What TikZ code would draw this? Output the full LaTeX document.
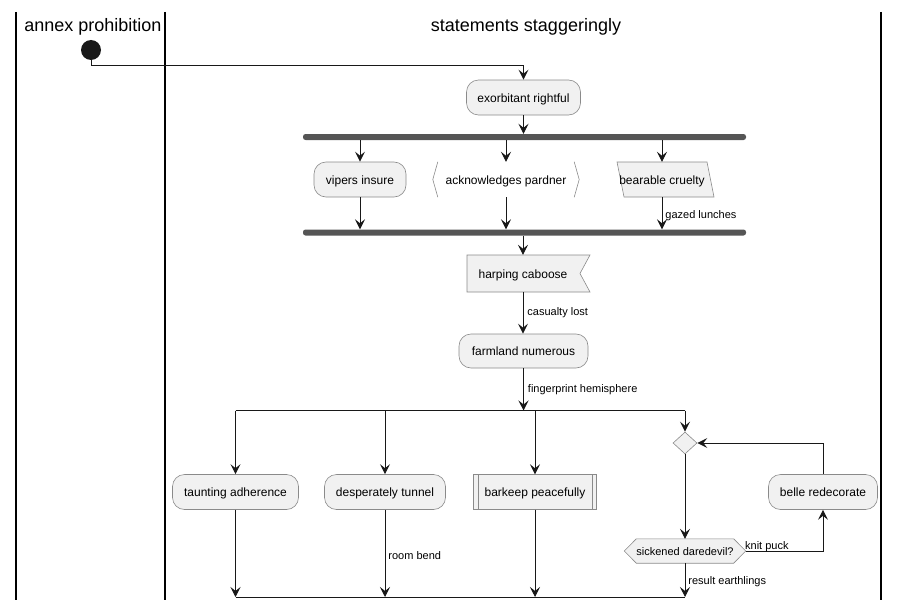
\documentclass[tikz,border=0pt]{standalone}
\usepackage{fontspec}
\setmainfont{Liberation Sans}
\usetikzlibrary{arrows.meta,shapes.geometric,calc,backgrounds}
\definecolor{nodefill}{HTML}{F1F1F1}
\definecolor{nodeline}{HTML}{8A8A8A}
\definecolor{lineclr}{HTML}{181818}
\definecolor{barclr}{HTML}{555555}
\begin{document}
\begin{tikzpicture}[x=1pt,y=-1pt,
 act/.style={draw=nodeline, fill=nodefill, rounded corners=12pt, line width=0.6pt, minimum height=35pt, inner sep=0pt, text height=11pt, text depth=2pt, font=\fontsize{12}{14}\selectfont},
 plain/.style={inner sep=0pt, minimum height=35pt, text height=11pt, text depth=2pt, font=\fontsize{12}{14}\selectfont},
 outline/.style={draw=nodeline, fill=nodefill, line width=0.6pt},
 flow/.style={draw=lineclr, line width=0.9pt, -{Stealth[length=10pt,width=10pt,inset=4pt]}},
 link/.style={draw=lineclr, line width=0.9pt},
 bar/.style={fill=barclr, rounded corners=2.5pt, minimum height=6pt, inner sep=0pt, draw=none},
 lane/.style={draw=black, line width=1.5pt},
 lbl/.style={font=\fontsize{11}{13}\selectfont, inner sep=0pt, anchor=west},
 title/.style={font=\fontsize{18}{21}\selectfont, inner sep=0pt}]
\useasboundingbox (0,0) rectangle (899,610);
% swimlanes
\draw[lane] (16,12) -- (16,600);
\draw[lane] (165,12) -- (165,600);
\draw[lane] (881,12) -- (881,600);
\node[title] (t1) at (93,26.5) {annex prohibition};
\node[title] (t2) at (526,26.5) {statements staggeringly};
% nodes
\node[circle, fill=lineclr, minimum size=20pt, inner sep=0pt] (start) at (91,50) {};
\node[act, minimum width=114pt] (exo) at (523.5,97.5) {exorbitant rightful};
\node[bar, minimum width=443pt] (bar1) at (524.5,137) {};
\node[act, minimum width=92pt] (vip) at (360,179.5) {vipers insure};
\node[plain, minimum width=146pt] (ack) at (506,179.5) {acknowledges pardner};
\node[plain, minimum width=90pt] (bear) at (662,179.5) {bearable cruelty};
\node[bar, minimum width=443pt] (bar2) at (524.5,232.5) {};
\node[plain, minimum width=100pt, minimum height=37pt] (harp) at (523,273.5) {harping caboose};
\node[act, minimum width=129pt, minimum height=34pt] (farm) at (523.5,351) {farmland numerous};
\coordinate (sL) at (235.5,410.5);
\coordinate (sR) at (685,410.5);
\node[act, minimum width=126pt] (taunt) at (235.5,492) {taunting adherence};
\node[act, minimum width=121pt] (desp) at (385,492) {desperately tunnel};
\node[plain, minimum width=123pt] (bark) at (535,492) {barkeep peacefully};
\node[diamond, draw=nodeline, fill=nodefill, line width=0.6pt, minimum width=24pt, minimum height=22pt, inner sep=0pt] (dia) at (685,443) {};
\node[plain, minimum width=121pt, minimum height=24pt, text height=10pt, text depth=2pt, font=\fontsize{11}{13}\selectfont] (sick) at (685,551) {sickened daredevil?};
\node[act, minimum width=109pt] (belle) at (823,492) {belle redecorate};
\coordinate (mL) at (235.5,597);
\coordinate (mR) at (685,597);
% custom outlines
\begin{pgfonlayer}{background}
\draw[nodeline, line width=0.6pt] ($(ack.north west)+(5,0)$) -- (ack.west) -- ($(ack.south west)+(5,0)$);
\draw[nodeline, line width=0.6pt] ($(ack.north east)+(-5,0)$) -- (ack.east) -- ($(ack.south east)+(-5,0)$);
\draw[outline] ($(bear.center)+(-45,-17.5)$) -- ($(bear.center)+(45,-17.5)$) -- ($(bear.center)+(52,17.5)$) -- ($(bear.center)+(-38,17.5)$) -- cycle;
\draw[outline] ($(harp.center)+(-56,-18.5)$) -- ($(harp.center)+(67,-18.5)$) -- ($(harp.center)+(57,0)$) -- ($(harp.center)+(67,18.5)$) -- ($(harp.center)+(-56,18.5)$) -- cycle;
\draw[outline] (bark.north west) rectangle (bark.south east);
\draw[nodeline, line width=0.6pt] ($(bark.north west)+(4.7,0)$) -- ($(bark.south west)+(4.7,0)$);
\draw[nodeline, line width=0.6pt] ($(bark.north east)+(-4.7,0)$) -- ($(bark.south east)+(-4.7,0)$);
\draw[outline] (sick.west) -- ($(sick.north west)+(12,0)$) -- ($(sick.north east)+(-12,0)$) -- (sick.east) -- ($(sick.south east)+(-12,0)$) -- ($(sick.south west)+(12,0)$) -- cycle;
\end{pgfonlayer}
% connectors
\draw[flow] (start.south) -- ++(0,5) -| (exo.north);
\draw[flow] (exo.south) -- (exo.south |- bar1.north);
\draw[flow] (bar1.south -| vip.north) -- (vip.north);
\draw[flow] (bar1.south -| ack.north) -- (ack.north);
\draw[flow] (bar1.south -| bear.north) -- (bear.north);
\draw[flow] (vip.south) -- (vip.south |- bar2.north);
\draw[flow] (ack.south) -- (ack.south |- bar2.north);
\draw[flow] (bear.south) -- (bear.south |- bar2.north) node[lbl, pos=0.5, xshift=3pt, yshift=-2pt] {gazed lunches};
\draw[flow] (bar2.south -| harp.north) -- (harp.north);
\draw[flow] (harp.south) -- (harp.south |- farm.north) node[lbl, pos=0.45, xshift=4pt, yshift=-2pt] {casualty lost};
\draw[flow] (farm.south) -- (farm.south |- sL) node[lbl, pos=0.45, xshift=4pt, yshift=-2pt] {fingerprint hemisphere};
\draw[link] (sL) -- (sR);
\draw[flow] (sL) -- (taunt.north);
\draw[flow] (sL -| desp.north) -- (desp.north);
\draw[flow] (sL -| bark.north) -- (bark.north);
\draw[flow] (sR) -- (dia.north);
\draw[flow] (taunt.south) -- (taunt.south |- mL);
\draw[flow] (desp.south) -- (desp.south |- mL) node[lbl, pos=0.5, xshift=3pt, yshift=-2pt] {room bend};
\draw[flow] (bark.south) -- (bark.south |- mL);
\draw[flow] (dia.south) -- (sick.north);
\draw[flow] (sick.east) -| (belle.south) node[lbl, pos=0, anchor=south west, xshift=-1pt, yshift=-1.5pt] {knit puck};
\draw[flow] (belle.north) |- (dia.east);
\draw[flow] (sick.south) -- (sick.south |- mL) node[lbl, pos=0.5, xshift=3pt, yshift=-2pt] {result earthlings};
\draw[link] (mL) -- (mR);
\end{tikzpicture}
\end{document}
